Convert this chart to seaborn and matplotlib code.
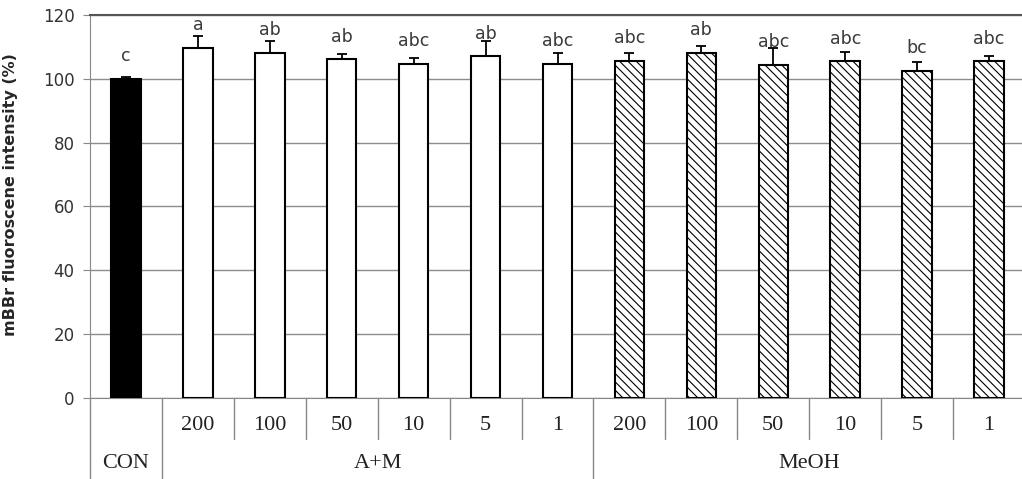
import numpy as np
import pandas as pd
import matplotlib
matplotlib.use("Agg")
import matplotlib.pyplot as plt
import seaborn as sns

# data
groups = ["CON", "A+M", "A+M", "A+M", "A+M", "A+M", "A+M",
          "MeOH", "MeOH", "MeOH", "MeOH", "MeOH", "MeOH"]
conc = ["", "200", "100", "50", "10", "5", "1",
        "200", "100", "50", "10", "5", "1"]
means = [100.0, 109.6, 108.2, 106.1, 104.6, 107.0, 104.6,
         105.6, 108.0, 104.4, 105.4, 102.5, 105.4]
errs = [0.4, 3.7, 3.5, 1.6, 1.8, 4.7, 3.4,
        2.6, 2.2, 5.2, 3.1, 2.6, 1.6]
letters = ["c", "a", "ab", "ab", "abc", "ab", "abc",
           "abc", "ab", "abc", "abc", "bc", "abc"]

df = pd.DataFrame({"pos": [str(i) for i in range(len(means))],
                   "group": groups, "mean": means})
colors = ["black"] + ["white"] * 12

sns.set_style("white")
plt.rcParams["hatch.linewidth"] = 0.8
fig = plt.figure(figsize=(10.22, 4.79), dpi=100)
# the plot area runs slightly past the right edge, as in the reference
ax = fig.add_axes([0.088, 0.169, 0.915, 0.8])

sns.barplot(data=df, x="pos", y="mean", hue="pos", palette=colors, legend=False,
            width=0.41, edgecolor="black", linewidth=1.5, ax=ax, zorder=3)
for patch, g in zip(ax.patches, groups):
    if g == "MeOH":
        patch.set_hatch("\\\\\\\\")

x = np.arange(len(means))
ax.errorbar(x, means, yerr=[np.zeros(len(errs)), errs], fmt="none",
            ecolor="black", elinewidth=1.3, capsize=3.6, capthick=1.3, zorder=4)
for xi, m, lab in zip(x, means, letters):
    ax.text(xi, m + 4.3, lab, ha="center", va="bottom", fontsize=12.5, color="#3a3a3a")

ax.set_ylim(0, 120)
ax.set_xlim(-0.5, len(means) - 0.5)
ax.set_yticks(range(0, 121, 20))
ax.yaxis.grid(True, color="#8c8c8c", linewidth=1, zorder=0)
ax.set_axisbelow(True)
ax.tick_params(axis="y", labelsize=12, labelcolor="#333333", length=5, pad=6,
               direction="out", left=True, color="#888888")
ax.set_xticks([])
ax.set_xlabel("")
ax.set_ylabel("mBBr fluoroscene intensity (%)", fontsize=11.5, fontweight="bold")
ax.yaxis.set_label_coords(-0.077, 0.53)
ax.spines["right"].set_visible(False)
ax.spines["top"].set_color("#555555")
ax.spines["top"].set_linewidth(1.5)
ax.spines["left"].set_color("#888888")
ax.spines["bottom"].set_color("#888888")

# table-style category axis below the plot
tr = ax.get_xaxis_transform()
serif = {"family": "Liberation Serif", "fontsize": 16, "color": "#222222"}
line_kw = dict(color="#888888", linewidth=1, transform=tr, clip_on=False)
ax.plot([-0.5, -0.5], [0, -0.22], **line_kw)
for xi in range(1, len(means)):
    full = groups[xi] != groups[xi - 1]
    ax.plot([xi - 0.5, xi - 0.5], [0, -0.22 if full else -0.107], **line_kw)
for xi, c in enumerate(conc):
    ax.text(xi, -0.072, c, ha="center", va="center", transform=tr, **serif)
for g in ["CON", "A+M", "MeOH"]:
    idx = [i for i, gg in enumerate(groups) if gg == g]
    ax.text(np.mean(idx), -0.17, g, ha="center", va="center", transform=tr, **serif)

fig.savefig("out.png", dpi=100)
